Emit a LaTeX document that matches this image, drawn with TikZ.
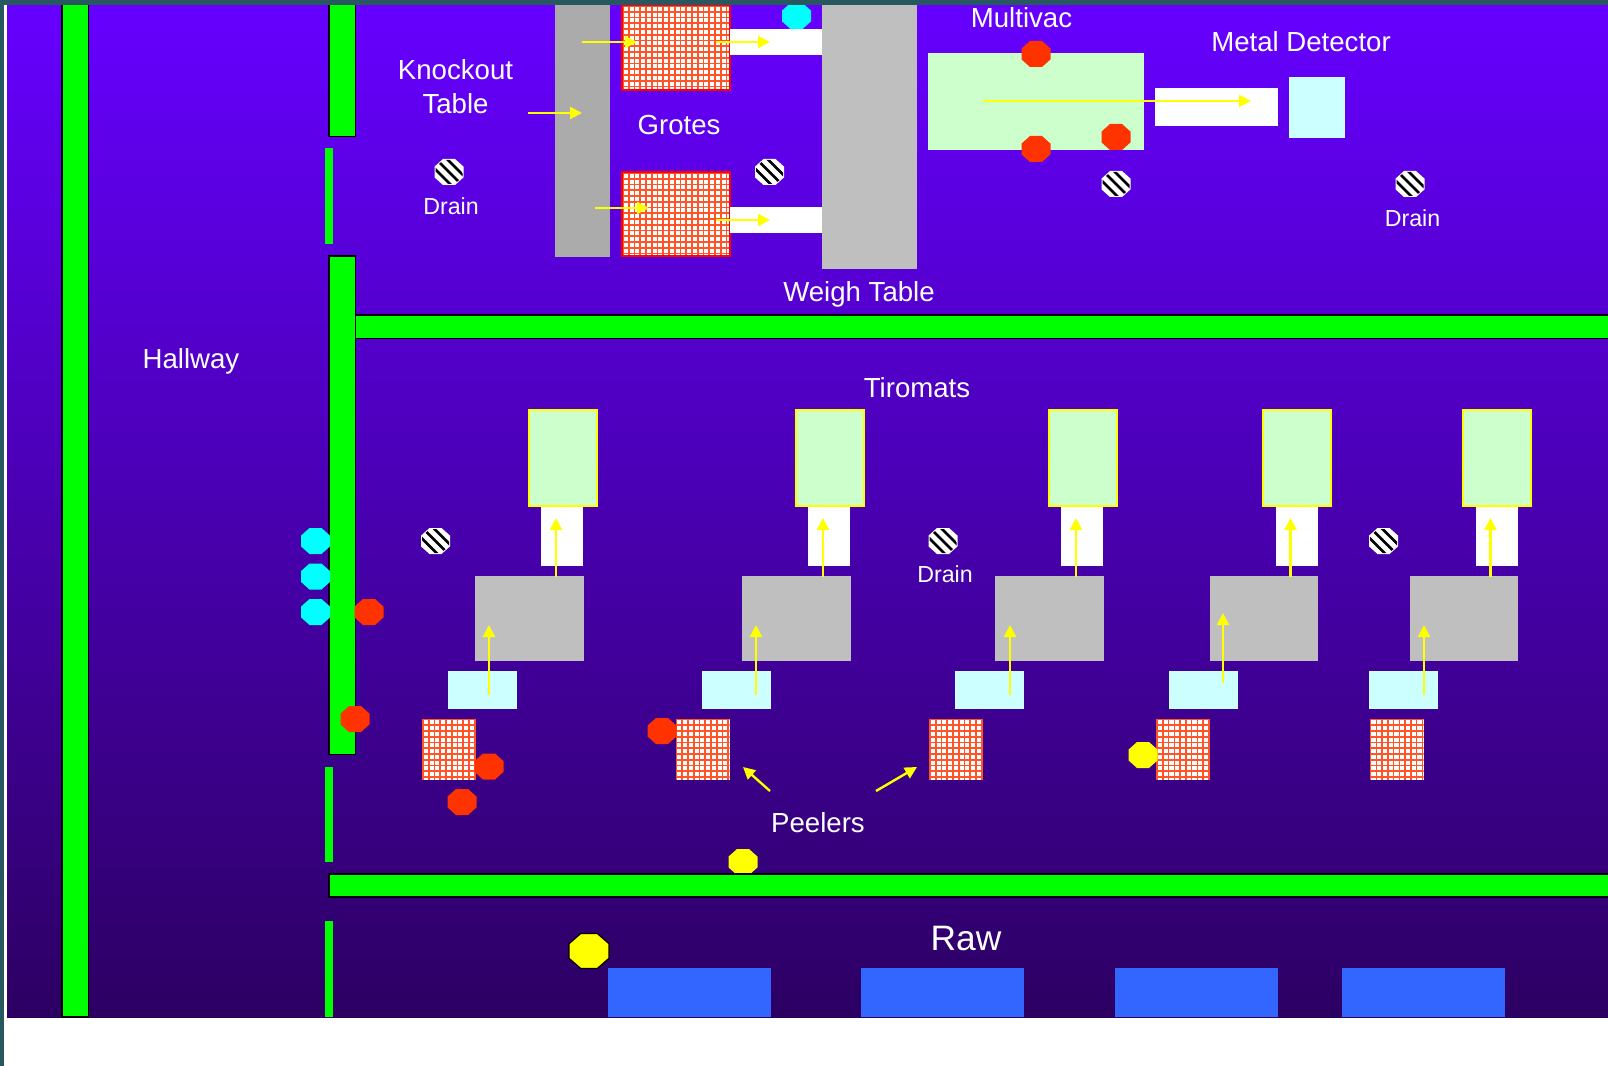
\documentclass[tikz,border=0pt]{standalone}
\usepackage{fontspec}
\setmainfont{Liberation Sans}
\usetikzlibrary{arrows.meta}
\definecolor{bgtop}{HTML}{6600FF}
\definecolor{bgbot}{HTML}{2C0062}
\definecolor{framecol}{HTML}{275860}
\definecolor{wallgreen}{HTML}{00FF00}
\definecolor{palegreen}{HTML}{CCFFCC}
\definecolor{palecyan}{HTML}{CCFFFF}
\definecolor{tablegray}{HTML}{BFBFBF}
\definecolor{koutgray}{HTML}{ABABAB}
\definecolor{rawblue}{HTML}{3366FF}
\definecolor{stopred}{HTML}{FF3300}
\definecolor{gridred}{HTML}{FF5428}
\definecolor{flowyellow}{HTML}{FFFF00}
\definecolor{stopcyan}{HTML}{00FFFF}
\definecolor{groteedge}{HTML}{FF0000}
\newcommand{\oct}[5]{\path[#1] ({#2-.5*#4},{#3-.207*#5}) -- ({#2-.207*#4},{#3-.5*#5}) -- ({#2+.207*#4},{#3-.5*#5}) -- ({#2+.5*#4},{#3-.207*#5}) -- ({#2+.5*#4},{#3+.207*#5}) -- ({#2+.207*#4},{#3+.5*#5}) -- ({#2-.207*#4},{#3+.5*#5}) -- ({#2-.5*#4},{#3+.207*#5}) -- cycle;}
\newcommand{\drainmark}[2]{%
  \oct{fill=white}{#1}{#2}{29}{26}
  \begin{scope}
    \oct{clip}{#1}{#2}{27}{24}
    \foreach \d in {-11,0,11}{
      \draw[black,line width=1.9pt] ({#1-20+\d},{#2-20}) -- ({#1+20+\d},{#2+20});
    }
  \end{scope}}
\newcommand{\gridbox}[4]{%
  \fill[white] (#1,#2) rectangle (#3,#4);
  \begin{scope}
    \clip (#1,#2) rectangle (#3,#4);
    \foreach \i in {0,...,20}{
      \draw[gridred,line width=1.15pt] ({#1+1+\i*5.75},#2) -- ({#1+1+\i*5.75},#4);
      \draw[gridred,line width=1.15pt] (#1,{#2+1+\i*5.75}) -- (#3,{#2+1+\i*5.75});
    }
  \end{scope}}
\tikzset{
  wall/.style={fill=wallgreen,draw=black,line width=1.2pt},
  thinwall/.style={fill=wallgreen},
  flow/.style={draw=flowyellow,line width=1.8pt,-{Triangle[length=9pt,width=9pt]}},
  label/.style={text=white,font=\fontsize{20.7}{25}\selectfont,inner sep=0pt,anchor=base},
  small/.style={text=white,font=\fontsize{17.4}{20}\selectfont,inner sep=0pt,anchor=base},
  tirobox/.style={fill=palegreen,draw=flowyellow,line width=1.5pt},
  stop/.style={fill=stopred},
  cyanstop/.style={fill=stopcyan},
}
\begin{document}
\begin{tikzpicture}[x=.75pt,y=-.75pt]
\useasboundingbox (0,0) rectangle (1608,1066);
% ground
\fill[white] (0,0) rectangle (1608,1067);
\shade[top color=bgtop,bottom color=bgbot] (7,5) rectangle (1608,1017);
% walls
\draw[wall] (62,0) rectangle (88.5,1017);
\draw[wall] (329,0) rectangle (355.5,136.5);
\draw[wall] (329,256) rectangle (355.5,754.5);
\draw[wall] (355.5,315) rectangle (1612,338.5);
\oct{fill=flowyellow}{743}{862}{29}{26}
\draw[wall] (329,874) rectangle (1612,897);
\fill[thinwall] (325,148.5) rectangle (333,244);
\fill[thinwall] (325,767) rectangle (333,862);
\fill[thinwall] (325,921) rectangle (333,1017);
% knockout, grotes, weigh table
\fill[koutgray] (555,5) rectangle (610,257);
\gridbox{622}{5}{730}{90}
\draw[groteedge,line width=1.2pt] (622,5) rectangle (730,90);
\gridbox{622}{172}{730}{256}
\draw[groteedge,line width=1.2pt] (622,172) rectangle (730,256);
\fill[white] (730,29) rectangle (824,55);
\fill[white] (730,207) rectangle (824,233);
\fill[tablegray] (822,5) rectangle (917,269);
\oct{cyanstop}{796.5}{16}{29}{26}
\draw[flow] (582,42) -- (637,42);
\draw[flow] (716,42) -- (770,42);
\draw[flow] (528,113) -- (582,113);
\draw[flow] (595,208) -- (649,208);
\draw[flow] (716,220) -- (770,220);
% multivac, metal detector
\fill[palegreen] (928,53) rectangle (1144,150);
\fill[white] (1155,88) rectangle (1277.5,126);
\fill[palecyan] (1288.5,77) rectangle (1345,138);
\oct{stop}{1036}{54}{29}{26}
\oct{stop}{1036}{149}{29}{26}
\oct{stop}{1116}{137}{29}{26}
\draw[flow] (983,101) -- (1251,101);
% tiromat lines
\foreach \gx/\cx/\kx/\ax/\ay in {475/448/422/489/695,742/701.5/675.5/756/695,995/955/929/1010/695,1209.5/1169/1156/1223/683,1409.5/1369/1369.5/1424/695}{
  \fill[white] ({\gx+66},505) rectangle ({\gx+108},566);
  \draw[tirobox] ({\gx+53.5},410) rectangle ({\gx+121.5},505.5);
  \fill[tablegray] (\gx,575.5) rectangle ({\gx+108.5},660.5);
  \fill[palecyan] (\cx,670.5) rectangle ({\cx+69},708.5);
  \gridbox{\kx}{718.5}{\kx+54}{779.5}
  \draw[flow] (\ax,\ay) -- (\ax,{\ay-70});
  \draw[flow] ({\gx+81},577) -- ({\gx+81},518);
}
\draw[flow] (770,791) -- (743,767);
\draw[flow] (876,791) -- (917,767);
% stops
\oct{cyanstop}{315.5}{541}{29}{26}
\oct{cyanstop}{315.5}{576.5}{29}{26}
\oct{cyanstop}{315.5}{612}{29}{26}
\oct{stop}{369}{612}{29}{26}
\oct{stop}{355}{719}{29}{26}
\oct{stop}{489}{766.5}{29}{26}
\oct{stop}{462}{802}{29}{26}
\oct{stop}{662}{731}{29}{26}
\oct{fill=flowyellow}{1143}{755}{29}{26}
\oct{fill=flowyellow,draw=black,line width=.9pt}{589}{951}{40}{35}
% drains
\drainmark{449}{172}
\drainmark{769.5}{172}
\drainmark{1116}{184}
\drainmark{1410}{184}
\drainmark{435.5}{541}
\drainmark{943}{541}
\drainmark{1383.5}{541}
% raw
\foreach \rx in {608,861,1115,1342}{
  \fill[rawblue] (\rx,967.5) rectangle ({\rx+162.5},1017);
}
% frame
\fill[framecol] (0,0) rectangle (1608,5);
\fill[framecol] (0,0) rectangle (4,1067);
% labels
\node[label] (knockout) at (455.5,79.5) {Knockout};
\node[label] (knocktable) at (455.5,114) {Table};
\node[label] (grotes) at (679,135) {Grotes};
\node[label] (weigh) at (859,301) {Weigh Table};
\node[label] (multivac) at (1021.5,28) {Multivac};
\node[label] (metal) at (1301,52) {Metal Detector};
\node[label] (hallway) at (191,368) {Hallway};
\node[label] (tiromats) at (917,397.5) {Tiromats};
\node[label] (peelers) at (818,832) {Peelers};
\node[text=white,font=\fontsize{26.5}{30}\selectfont,inner sep=0pt,anchor=base] (raw) at (966,950.5) {Raw};
\node[small] (drainA) at (451,214.5) {Drain};
\node[small] (drainB) at (1412.5,226.5) {Drain};
\node[small] (drainC) at (945,582) {Drain};
\end{tikzpicture}
\end{document}
